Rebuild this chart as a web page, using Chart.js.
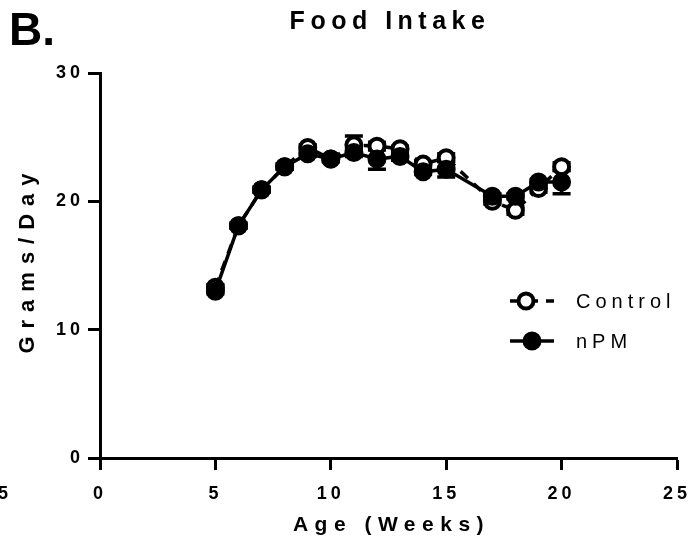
<!DOCTYPE html>
<html>
<head>
<meta charset="utf-8">
<script src="https://cdn.jsdelivr.net/npm/chart.js@4"></script>
<style>
  body { margin: 0; background: #fff; }
  #wrap { width: 698px; height: 555px; position: relative; }
</style>
</head>
<body>
<div id="wrap"><canvas id="c"></canvas></div>
<script>
// data (weeks of age vs grams of food per day)
const weeks = [5, 6, 7, 8, 9, 10, 11, 12, 13, 14, 15, 17, 18, 19, 20];
const control = [13.3, 18.1, 20.9, 22.7, 24.2, 23.3, 24.4, 24.3, 24.1, 22.9, 23.4, 20.0, 19.3, 21.0, 22.7];
const controlErr = [0.2, 0.2, 0.2, 0.2, 0.2, 0.2, 0.7, 0.3, 0.2, 0.2, 0.3, 0.2, 0.3, 0.3, 0.3];
const npm = [13.0, 18.1, 20.9, 22.7, 23.7, 23.3, 23.8, 23.3, 23.5, 22.3, 22.5, 20.4, 20.4, 21.5, 21.5];
const npmErr = [0.2, 0.2, 0.2, 0.2, 0.2, 0.2, 0.3, 0.8, 0.3, 0.2, 0.6, 0.2, 0.2, 0.2, 0.9];
const xTicks = [0, 5, 10, 15, 20, 25];
const yTicks = [0, 10, 20, 30];

const FONT = "'Liberation Sans', Arial, sans-serif";

function pts (vals) {
  return weeks.map((w, i) => ({x: w, y: vals[i]}));
}

const errorBars = {
  id: 'errorBars',
  beforeDatasetsDraw (chart) {
    const ctx = chart.ctx;
    const xs = chart.scales.x, ys = chart.scales.y;
    const sets = [[control, controlErr], [npm, npmErr]];
    ctx.save();
    ctx.strokeStyle = '#000';
    ctx.lineWidth = 3.5;
    sets.forEach(([vals, errs]) => {
      weeks.forEach((w, i) => {
        const px = xs.getPixelForValue(w);
        const top = ys.getPixelForValue(vals[i] + errs[i]);
        const bot = ys.getPixelForValue(vals[i] - errs[i]);
        ctx.beginPath();
        ctx.moveTo(px, top); ctx.lineTo(px, bot);
        ctx.moveTo(px - 9, top); ctx.lineTo(px + 9, top);
        ctx.moveTo(px - 9, bot); ctx.lineTo(px + 9, bot);
        ctx.stroke();
      });
    });
    ctx.restore();
  }
};

const decorations = {
  id: 'decorations',
  beforeDraw (chart) {
    chart.ctx.letterSpacing = '4px';
  },
  afterDraw (chart) {
    const ctx = chart.ctx;
    const area = chart.chartArea;
    ctx.save();
    ctx.fillStyle = '#000';
    ctx.textBaseline = 'middle';

    // panel letter
    ctx.letterSpacing = '0px';
    ctx.textAlign = 'left';
    ctx.font = 'bold 46px ' + FONT;
    ctx.fillText('B.', 9, 32);

    // title
    ctx.letterSpacing = '5.5px';
    ctx.textAlign = 'center';
    ctx.font = 'bold 25px ' + FONT;
    ctx.fillText('Food Intake', 390, 22);

    // axis titles
    ctx.font = 'bold 21px ' + FONT;
    ctx.letterSpacing = '6.5px';
    ctx.fillText('Age (Weeks)', (area.left + area.right) / 2 + 3, 525);
    ctx.save();
    ctx.translate(28, (area.top + area.bottom) / 2);
    ctx.rotate(-Math.PI / 2);
    ctx.font = 'bold 22px ' + FONT;
    ctx.letterSpacing = '8px';
    ctx.fillText('Grams/Day', 6, 0);
    ctx.restore();

    // cut-off tick label of the neighbouring panel
    ctx.letterSpacing = '4px';
    ctx.textAlign = 'right';
    ctx.font = 'bold 18px ' + FONT;
    ctx.fillText('25', 12, 494);

    // legend
    const items = [
      {label: chart.data.datasets[0].label, y: 301, dash: [10, 8], fill: '#fff', mx: 526},
      {label: chart.data.datasets[1].label, y: 341, dash: [], fill: '#000', mx: 532}
    ];
    items.forEach(it => {
      ctx.lineWidth = 3.5;
      ctx.strokeStyle = '#000';
      ctx.setLineDash(it.dash);
      ctx.beginPath();
      ctx.moveTo(510, it.y); ctx.lineTo(554, it.y);
      ctx.stroke();
      ctx.setLineDash([]);
      ctx.beginPath();
      ctx.arc(it.mx, it.y, 7.5, 0, Math.PI * 2);
      ctx.fillStyle = it.fill;
      ctx.fill();
      ctx.lineWidth = 4;
      ctx.stroke();
      ctx.fillStyle = '#000';
      ctx.letterSpacing = '5px';
      ctx.textAlign = 'left';
      ctx.font = '20px ' + FONT;
      ctx.fillText(it.label, 576, it.y + 1);
    });
    ctx.restore();
  }
};

const tickFont = {family: FONT, size: 18, weight: 'bold'};

new Chart(document.getElementById('c'), {
  type: 'line',
  data: {
    datasets: [
      {
        label: 'Control',
        data: pts(control),
        borderColor: '#000',
        borderWidth: 3.5,
        borderDash: [10, 8],
        pointRadius: 7.5,
        pointBorderWidth: 4,
        pointBackgroundColor: '#fff',
        pointBorderColor: '#000',
        tension: 0,
        order: 1
      },
      {
        label: 'nPM',
        data: pts(npm),
        borderColor: '#000',
        borderWidth: 3.5,
        pointRadius: 8.5,
        pointBorderWidth: 2,
        pointBackgroundColor: '#000',
        pointBorderColor: '#000',
        tension: 0,
        order: 0
      }
    ]
  },
  options: {
    responsive: true,
    maintainAspectRatio: false,
    animation: false,
    layout: {padding: {top: 73, right: 21, left: 0, bottom: 0}},
    plugins: {
      legend: {display: false},
      tooltip: {enabled: false},
      title: {display: false}
    },
    scales: {
      x: {
        type: 'linear',
        min: 0,
        max: 25,
        afterBuildTicks: s => { s.ticks = xTicks.map(v => ({value: v})); },
        afterFit: s => { s.height = 97; s.paddingLeft = 0; s.paddingRight = 0; },
        ticks: {color: '#000', font: tickFont, padding: 13, maxRotation: 0},
        grid: {display: true, drawOnChartArea: false, drawTicks: true, tickLength: 12, tickWidth: 3, tickColor: '#000'},
        border: {color: '#000', width: 3}
      },
      y: {
        min: 0,
        max: 30,
        afterBuildTicks: s => { s.ticks = yTicks.map(v => ({value: v})); },
        afterFit: s => { s.width = 100; s.paddingTop = 0; s.paddingBottom = 0; },
        ticks: {color: '#000', font: tickFont, padding: 4},
        grid: {display: true, drawOnChartArea: false, drawTicks: true, tickLength: 12, tickWidth: 3, tickColor: '#000'},
        border: {color: '#000', width: 3}
      }
    }
  },
  plugins: [errorBars, decorations]
});
</script>
</body>
</html>
